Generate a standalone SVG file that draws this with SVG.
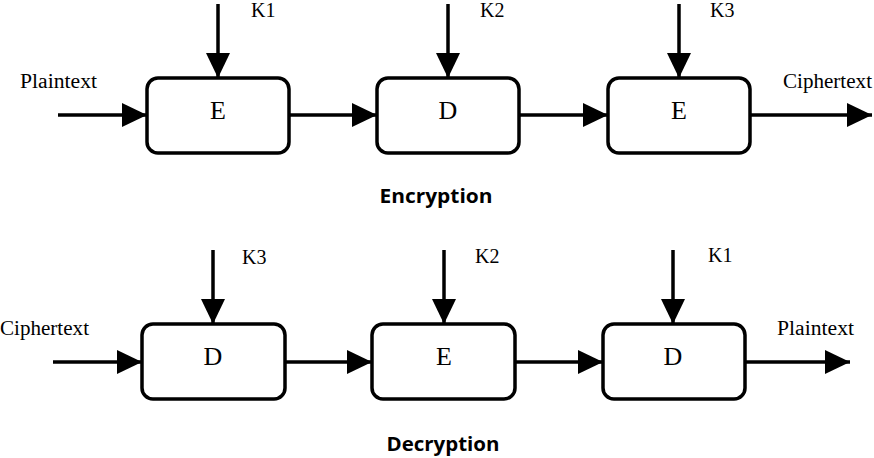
<svg xmlns="http://www.w3.org/2000/svg" width="874" height="458" viewBox="0 0 874 458">
<style>
.box{fill:#fff;stroke:#000;stroke-width:3.5}
.op{font-family:"Liberation Serif","Times New Roman",serif;font-size:26px;fill:#000;text-anchor:middle}
.lbl{font-family:"Liberation Serif","Times New Roman",serif;font-size:20px;fill:#000}
.ttl{font-family:"Open Sans","Noto Sans",sans-serif;font-size:20px;font-weight:bold;fill:#000;text-anchor:middle}
.conn line{stroke:#000;stroke-width:3.5;marker-end:url(#ah)}
</style>
<defs>
<marker id="ah" markerUnits="userSpaceOnUse" markerWidth="26" markerHeight="26" refX="25" refY="12.5" orient="auto">
<path d="M0,0.5 L25,12.5 L0,24.5 z" fill="#000"/>
</marker>
</defs>
<rect width="874" height="458" fill="#fff"/>

<g id="enc-E1"><rect class="box" x="147" y="78" width="142" height="75" rx="11"/><text class="op" x="218" y="119">E</text></g>
<g id="enc-D2"><rect class="box" x="377" y="78" width="142" height="75" rx="11"/><text class="op" x="448" y="119">D</text></g>
<g id="enc-E3"><rect class="box" x="608" y="78" width="142" height="75" rx="11"/><text class="op" x="679" y="119">E</text></g>

<g id="dec-D1"><rect class="box" x="142" y="324" width="143" height="75" rx="11"/><text class="op" x="213" y="365">D</text></g>
<g id="dec-E2"><rect class="box" x="372" y="324" width="143" height="75" rx="11"/><text class="op" x="444" y="365">E</text></g>
<g id="dec-D3"><rect class="box" x="603" y="324" width="142" height="75" rx="11"/><text class="op" x="673" y="365">D</text></g>

<g id="labels">
<text class="lbl" x="20" y="88" textLength="77" lengthAdjust="spacingAndGlyphs">Plaintext</text>
<text class="lbl" x="251" y="17">K1</text>
<text class="lbl" x="480" y="17">K2</text>
<text class="lbl" x="710" y="17">K3</text>
<text class="lbl" x="783" y="88" textLength="89" lengthAdjust="spacingAndGlyphs">Ciphertext</text>
<text class="lbl" x="0" y="335" textLength="89" lengthAdjust="spacingAndGlyphs">Ciphertext</text>
<text class="lbl" x="242" y="264">K3</text>
<text class="lbl" x="475" y="263">K2</text>
<text class="lbl" x="708" y="262">K1</text>
<text class="lbl" x="777" y="335" textLength="77" lengthAdjust="spacingAndGlyphs">Plaintext</text>
<text class="ttl" x="436" y="203" textLength="113" lengthAdjust="spacingAndGlyphs">Encryption</text>
<text class="ttl" x="443" y="451" textLength="113" lengthAdjust="spacingAndGlyphs">Decryption</text>
</g>

<g id="connectors" class="conn">
<line x1="58" y1="115" x2="147" y2="115"/>
<line x1="289" y1="115" x2="377" y2="115"/>
<line x1="519" y1="115" x2="608" y2="115"/>
<line x1="750" y1="115" x2="872" y2="115"/>
<line x1="218" y1="4" x2="218" y2="78"/>
<line x1="448" y1="4" x2="448" y2="78"/>
<line x1="679" y1="4" x2="679" y2="78"/>

<line x1="53" y1="362" x2="142" y2="362"/>
<line x1="285" y1="362" x2="372" y2="362"/>
<line x1="515" y1="362" x2="603" y2="362"/>
<line x1="745" y1="362" x2="850" y2="362"/>
<line x1="213" y1="250" x2="213" y2="324"/>
<line x1="444" y1="250" x2="444" y2="324"/>
<line x1="673" y1="250" x2="673" y2="324"/>
</g>
</svg>
